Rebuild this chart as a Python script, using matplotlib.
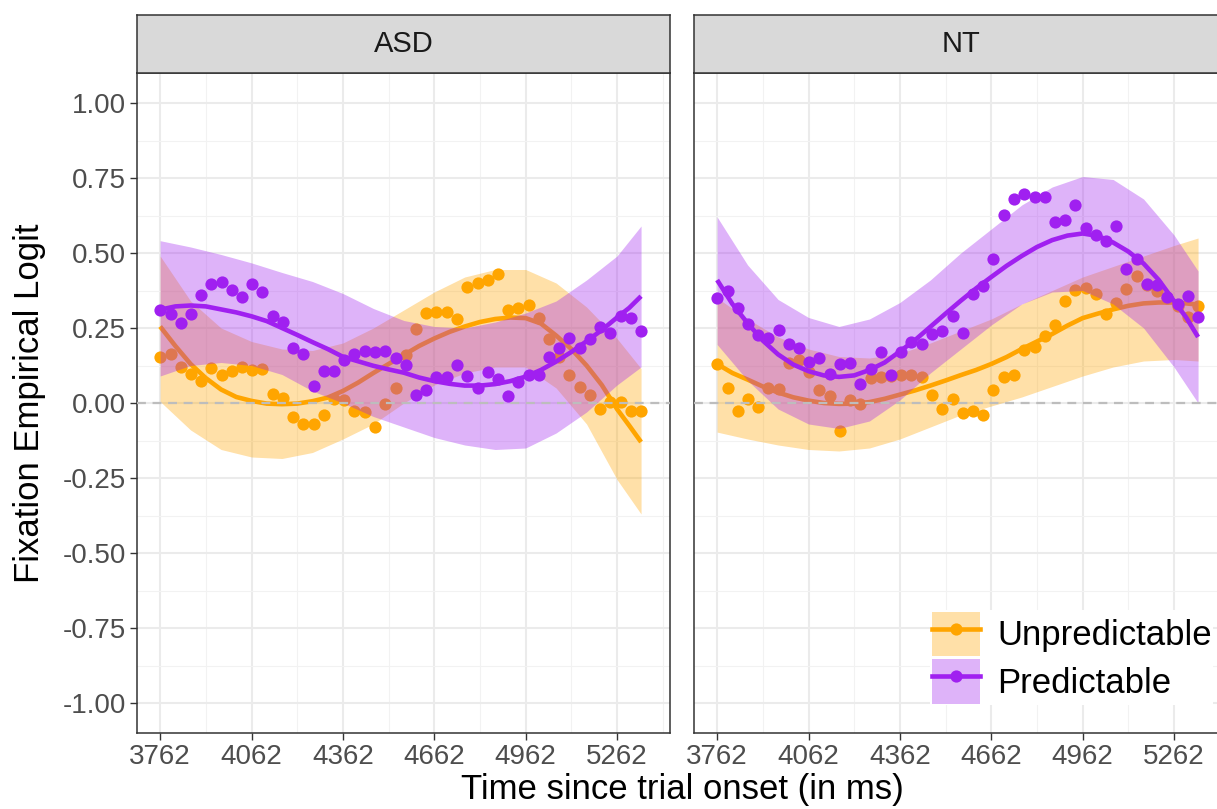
import numpy as np
import matplotlib
matplotlib.use("Agg")
import matplotlib.pyplot as plt
from matplotlib.lines import Line2D
from matplotlib.patches import Patch

plt.rcParams['font.family'] = ['Liberation Sans', 'DejaVu Sans']

# time bins of the observed points (ms)
time_ms = [3762, 3796, 3829, 3863, 3896, 3930, 3964, 3997, 4031, 4064, 4098, 4132,
           4165, 4199, 4232, 4266, 4300, 4333, 4367, 4400, 4434, 4468, 4501, 4535,
           4568, 4602, 4636, 4669, 4703, 4736, 4770, 4804, 4837, 4871, 4904, 4938,
           4972, 5005, 5039, 5072, 5106, 5140, 5173, 5207, 5240, 5274, 5308, 5341]

# empirical logits
asd_unpred = [0.155, 0.162, 0.121, 0.097, 0.073, 0.118, 0.095, 0.106, 0.120, 0.110, 0.113, 0.031,
              0.017, -0.047, -0.069, -0.069, -0.039, 0.015, 0.010, -0.025, -0.030, -0.081, -0.002, 0.051,
              0.160, 0.246, 0.300, 0.303, 0.303, 0.280, 0.388, 0.401, 0.410, 0.429, 0.311, 0.317,
              0.326, 0.283, 0.212, 0.155, 0.093, 0.054, 0.026, -0.019, 0.005, 0.005, -0.025, -0.025]
asd_pred = [0.311, 0.297, 0.267, 0.297, 0.359, 0.397, 0.404, 0.378, 0.353, 0.397, 0.371, 0.289,
            0.269, 0.184, 0.162, 0.056, 0.108, 0.108, 0.142, 0.163, 0.172, 0.171, 0.173, 0.149,
            0.128, 0.027, 0.043, 0.087, 0.087, 0.126, 0.089, 0.050, 0.104, 0.080, 0.024, 0.071,
            0.095, 0.095, 0.155, 0.185, 0.216, 0.182, 0.214, 0.252, 0.233, 0.289, 0.283, 0.241]
nt_unpred = [0.130, 0.051, -0.026, 0.015, -0.013, 0.050, 0.047, 0.135, 0.143, 0.104, 0.043, 0.022,
             -0.092, 0.010, -0.002, 0.082, 0.087, 0.091, 0.095, 0.095, 0.088, 0.028, -0.019, 0.012,
             -0.033, -0.027, -0.041, 0.043, 0.087, 0.092, 0.177, 0.186, 0.225, 0.260, 0.340, 0.377,
             0.383, 0.365, 0.297, 0.334, 0.380, 0.423, 0.395, 0.372, 0.350, 0.323, 0.286, 0.323]
nt_pred = [0.351, 0.373, 0.317, 0.263, 0.227, 0.216, 0.244, 0.196, 0.182, 0.138, 0.151, 0.098,
           0.129, 0.135, 0.065, 0.115, 0.171, 0.095, 0.171, 0.203, 0.196, 0.230, 0.239, 0.289,
           0.235, 0.364, 0.390, 0.479, 0.628, 0.681, 0.698, 0.686, 0.687, 0.603, 0.610, 0.659,
           0.584, 0.561, 0.539, 0.591, 0.446, 0.479, 0.397, 0.393, 0.353, 0.330, 0.358, 0.286]

# model fit curves, read every 50 ms
fit_ms = [3762, 3812, 3862, 3912, 3962, 4012, 4062, 4112, 4162, 4212, 4262, 4312,
          4362, 4412, 4462, 4512, 4562, 4612, 4662, 4712, 4762, 4812, 4862, 4912,
          4962, 5012, 5062, 5112, 5162, 5212, 5262, 5302, 5341]
asd_unpred_fit = [0.255, 0.19, 0.13, 0.083, 0.045, 0.02, 0.007, -0.002, -0.004, -0.002, 0.006, 0.018,
                  0.04, 0.068, 0.10, 0.13, 0.16, 0.19, 0.215, 0.237, 0.255, 0.27, 0.28, 0.285,
                  0.283, 0.265, 0.225, 0.18, 0.125, 0.06, -0.02, -0.075, -0.13]
asd_pred_fit = [0.311, 0.322, 0.325, 0.322, 0.312, 0.302, 0.289, 0.273, 0.250, 0.227, 0.203, 0.180,
                0.154, 0.139, 0.124, 0.112, 0.101, 0.085, 0.073, 0.064, 0.058, 0.058, 0.063, 0.073,
                0.088, 0.11, 0.138, 0.17, 0.206, 0.243, 0.285, 0.317, 0.356]
nt_unpred_fit = [0.13, 0.10, 0.078, 0.055, 0.035, 0.019, 0.008, 0.0, -0.003, -0.002, 0.003, 0.014,
                 0.028, 0.042, 0.058, 0.075, 0.093, 0.11, 0.13, 0.153, 0.18, 0.205, 0.23, 0.258,
                 0.283, 0.298, 0.312, 0.324, 0.332, 0.335, 0.335, 0.332, 0.328]
nt_pred_fit = [0.41, 0.33, 0.266, 0.208, 0.162, 0.128, 0.106, 0.092, 0.087, 0.092, 0.11, 0.135,
               0.172, 0.21, 0.254, 0.298, 0.341, 0.382, 0.42, 0.457, 0.49, 0.52, 0.543, 0.558,
               0.565, 0.557, 0.535, 0.505, 0.465, 0.41, 0.34, 0.285, 0.22]

# confidence ribbons, read every 100 ms
band_ms = [3762, 3862, 3962, 4062, 4162, 4262, 4362, 4462, 4562, 4662, 4762, 4862,
           4962, 5062, 5162, 5262, 5341]
asd_unpred_hi = [0.49, 0.34, 0.25, 0.205, 0.18, 0.175, 0.20, 0.25, 0.31, 0.37, 0.42, 0.445,
                 0.445, 0.40, 0.32, 0.215, 0.115]
asd_unpred_lo = [0.005, -0.09, -0.155, -0.18, -0.185, -0.165, -0.12, -0.07, 0.0, 0.06, 0.10, 0.12,
                 0.12, 0.05, -0.07, -0.255, -0.37]
asd_pred_hi = [0.541, 0.52, 0.495, 0.467, 0.435, 0.405, 0.365, 0.315, 0.275, 0.255, 0.25, 0.27,
               0.30, 0.34, 0.41, 0.49, 0.59]
asd_pred_lo = [0.09, 0.125, 0.135, 0.125, 0.095, 0.04, 0.0, -0.045, -0.08, -0.115, -0.14, -0.155,
               -0.15, -0.10, -0.03, 0.06, 0.12]
nt_unpred_hi = [0.35, 0.28, 0.22, 0.18, 0.155, 0.15, 0.165, 0.20, 0.24, 0.28, 0.33, 0.375,
                0.42, 0.455, 0.49, 0.525, 0.55]
nt_unpred_lo = [-0.097, -0.12, -0.14, -0.155, -0.16, -0.15, -0.12, -0.08, -0.04, -0.01, 0.02, 0.055,
                0.09, 0.12, 0.14, 0.145, 0.14]
nt_pred_hi = [0.62, 0.46, 0.345, 0.285, 0.255, 0.28, 0.335, 0.41, 0.5, 0.58, 0.66, 0.72,
              0.755, 0.745, 0.68, 0.56, 0.44]
nt_pred_lo = [0.195, 0.075, -0.02, -0.07, -0.085, -0.06, 0.01, 0.10, 0.18, 0.26, 0.33, 0.37,
              0.375, 0.33, 0.25, 0.12, 0.0]

panels = ["ASD", "NT"]
x_ticks = [3762, 4062, 4362, 4662, 4962, 5262]
y_ticks = [-1.0, -0.75, -0.5, -0.25, 0.0, 0.25, 0.5, 0.75, 1.0]
y_labels = ["-1.00", "-0.75", "-0.50", "-0.25", "0.00", "0.25", "0.50", "0.75", "1.00"]

ORANGE = "#FFA500"
PURPLE = "#A020F0"
ALPHA = 0.34
W, H = 1217, 809

def box(l, t, w, h):
    # pixel box -> figure fraction
    return [l / W, 1 - (t + h) / H, w / W, h / H]

fig = plt.figure(figsize=(W / 100, H / 100), dpi=100)

data = {
    "ASD": (asd_unpred, asd_unpred_fit, asd_unpred_lo, asd_unpred_hi,
            asd_pred, asd_pred_fit, asd_pred_lo, asd_pred_hi),
    "NT": (nt_unpred, nt_unpred_fit, nt_unpred_lo, nt_unpred_hi,
           nt_pred, nt_pred_fit, nt_pred_lo, nt_pred_hi),
}

for k, name in enumerate(panels):
    left = 137 + k * 557
    ax = fig.add_axes(box(left, 73, 533, 660))
    un, un_fit, un_lo, un_hi, pr, pr_fit, pr_lo, pr_hi = data[name]

    # unpredictable first, predictable drawn over it
    ax.fill_between(band_ms, un_lo, un_hi, color=ORANGE, alpha=ALPHA, lw=0, zorder=2)
    ax.plot(fit_ms, un_fit, color=ORANGE, lw=3.3, zorder=3, solid_capstyle='butt')
    ax.plot(time_ms, un, 'o', color=ORANGE, ms=8.8, mec='none', zorder=4)
    ax.fill_between(band_ms, pr_lo, pr_hi, color=PURPLE, alpha=ALPHA, lw=0, zorder=5)
    ax.axhline(0, color="#BDBDBD", lw=1.6, ls=(0, (4, 3)), zorder=5.5)
    ax.plot(fit_ms, pr_fit, color=PURPLE, lw=3.3, zorder=6, solid_capstyle='butt')
    ax.plot(time_ms, pr, 'o', color=PURPLE, ms=8.8, mec='none', zorder=7)

    ax.set_xlim(3686, 5436)
    ax.set_ylim(-1.1, 1.1)
    ax.set_xticks(x_ticks)
    ax.set_xticks([3912, 4212, 4512, 4812, 5112, 5412], minor=True)
    ax.set_yticks(y_ticks)
    ax.set_yticks(np.array(y_ticks[:-1]) + 0.125, minor=True)
    ax.grid(which='major', color='#EBEBEB', lw=1.5)
    ax.grid(which='minor', color='#F2F2F2', lw=0.8)
    ax.set_axisbelow(True)
    ax.tick_params(which='minor', length=0)
    ax.tick_params(which='major', length=5, width=1, color='#333333',
                   labelsize=20, labelcolor='#4D4D4D', pad=3)
    if k == 0:
        ax.set_yticklabels(y_labels)
    else:
        ax.tick_params(axis='y', which='both', left=False, labelleft=False)
    for sp in ax.spines.values():
        sp.set_color('#333333')
        sp.set_linewidth(1.1)

    # facet strip
    st = fig.add_axes(box(left, 15, 533, 58))
    st.set_facecolor('#D9D9D9')
    st.set_xticks([])
    st.set_yticks([])
    for sp in st.spines.values():
        sp.set_color('#333333')
        sp.set_linewidth(1.1)
    st.text(0.5, 0.5, name, ha='center', va='center', fontsize=21, color='#1A1A1A',
            transform=st.transAxes)

    if name == "NT":
        handles = [(Patch(facecolor=ORANGE, alpha=ALPHA, lw=0),
                    Line2D([], [], color=ORANGE, lw=3.3, marker='o', ms=8.8, mec='none')),
                   (Patch(facecolor=PURPLE, alpha=ALPHA, lw=0),
                    Line2D([], [], color=PURPLE, lw=3.3, marker='o', ms=8.8, mec='none'))]
        leg = ax.legend(handles, ["Unpredictable", "Predictable"], loc='upper left',
                        bbox_to_anchor=(930 / W, 1 - 610 / H), bbox_transform=fig.transFigure,
                        fontsize=25, frameon=True, framealpha=1, edgecolor='none',
                        fancybox=False, borderpad=0.05, handlelength=1.38, handleheight=1.6,
                        handletextpad=0.5, labelspacing=0.08, borderaxespad=0)
        leg.set_zorder(10)

fig.text(30 / W, 1 - 403 / H, "Fixation Empirical Logit", rotation=90,
         ha='center', va='center', fontsize=25)
fig.text(682 / W, 1 - 790 / H, "Time since trial onset (in ms)",
         ha='center', va='center', fontsize=25)

fig.savefig("out.png", dpi=100)
